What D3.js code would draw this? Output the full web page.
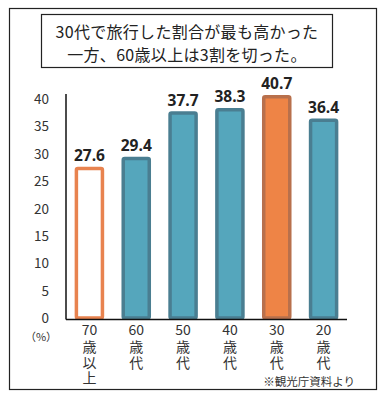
<!DOCTYPE html>
<html><head><meta charset="utf-8">
<script src="https://cdn.jsdelivr.net/npm/d3@7"></script>
<style>body{margin:0;background:#fff}svg{display:block}</style>
</head><body>
<svg id="c" width="387" height="398"></svg>
<script>
const categories = ["70歳以上","60歳代","50歳代","40歳代","30歳代","20歳代"];
const xLabelNum = ["70","60","50","40","30","20"];
const xLabelRest = ["歳以上","歳代","歳代","歳代","歳代","歳代"];
const values = [27.6, 29.4, 37.7, 38.3, 40.7, 36.4];
const barStyle = ["outline","teal","teal","teal","orange","teal"];
const yTicks = [0,5,10,15,20,25,30,35,40];
const titleLines = ["30代で旅行した割合が最も高かった","一方、60歳以上は3割を切った。"];
const unitLabel = "（%）";
const note = "※観光庁資料より";

const svg = d3.select("#c");
const font = "'Noto Sans CJK JP', 'Noto Sans', sans-serif";

svg.append("rect").attr("x",9.5).attr("y",8.5).attr("width",367).attr("height",381)
  .attr("fill","#fff").attr("stroke","#222").attr("stroke-width",1.2);
svg.append("rect").attr("x",41.5).attr("y",14.5).attr("width",291).attr("height",53)
  .attr("fill","#fff").attr("stroke","#222").attr("stroke-width",1.2);
svg.selectAll("text.title").data(titleLines).enter().append("text")
  .attr("x",187).attr("y",(d,i)=>37.5+i*23.4).attr("text-anchor","middle")
  .attr("font-family",font).attr("font-size",16).attr("letter-spacing",0.3).attr("fill","#222").text(d=>d);

const x = d3.scaleBand().domain(categories).range([66,347]).paddingInner(0.38).paddingOuter(0.19);
const y = d3.scaleLinear().domain([0,40]).range([318,99]);

const fills = {outline:"#fff", teal:"#55A6BC", orange:"#EE8446"};
const strokes = {outline:"#E8834F", teal:"#4A7E91", orange:"#B8704C"};

svg.selectAll("rect.bar").data(values).enter().append("rect")
  .attr("x",(d,i)=>x(categories[i])+1.5).attr("width",x.bandwidth()-3)
  .attr("y",d=>y(d)+1.5).attr("height",d=>y(0)-y(d)-1.5)
  .attr("rx",1.5)
  .attr("fill",(d,i)=>fills[barStyle[i]]).attr("stroke",(d,i)=>strokes[barStyle[i]]).attr("stroke-width",3.5);

// axes lines
svg.append("line").attr("x1",66).attr("x2",66).attr("y1",94).attr("y2",319.5).attr("stroke","#111").attr("stroke-width",1.5);
svg.append("line").attr("x1",66).attr("x2",347).attr("y1",319.5).attr("y2",319.5).attr("stroke","#111").attr("stroke-width",1.5);

svg.selectAll("text.yt").data(yTicks).enter().append("text")
  .attr("x",49).attr("y",d=>y(d)+5).attr("text-anchor","end")
  .attr("font-family",font).attr("font-size",13.5).attr("fill","#333").text(d=>d);
svg.append("text").attr("x",41).attr("y",340.5).attr("text-anchor","middle")
  .attr("font-family",font).attr("font-size",11).attr("fill","#333").text(unitLabel);

svg.selectAll("text.val").data(values).enter().append("text")
  .attr("x",(d,i)=>x(categories[i])+x.bandwidth()/2).attr("y",d=>y(d)-6)
  .attr("text-anchor","middle").attr("font-family","'Open Sans', 'Noto Sans', sans-serif")
  .attr("font-weight","bold").attr("font-size",15.5).attr("fill","#222").text(d=>d.toFixed(1));

categories.forEach((c,i)=>{
  const cx = x(c)+x.bandwidth()/2;
  svg.append("text").attr("x",cx).attr("y",335).attr("text-anchor","middle")
    .attr("font-family",font).attr("font-size",14).attr("fill","#333").text(xLabelNum[i]);
  svg.append("text").attr("x",cx).attr("y",340)
    .style("writing-mode","vertical-rl").style("text-orientation","upright")
    .attr("letter-spacing",1.5)
    .attr("font-family",font).attr("font-size",14).attr("fill","#333").text(xLabelRest[i]);
});

svg.append("text").attr("x",355).attr("y",386).attr("text-anchor","end")
  .attr("font-family",font).attr("font-size",11.5).attr("fill","#333").text(note);
</script>
</body></html>
